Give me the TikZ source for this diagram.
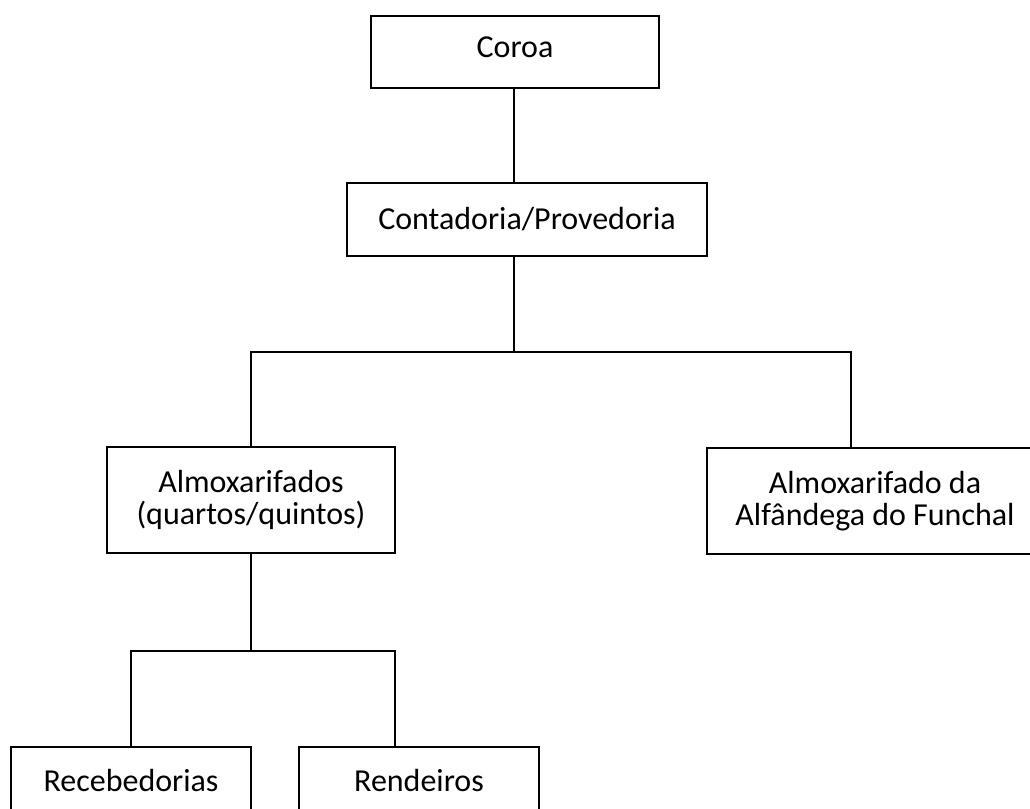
\documentclass[tikz,border=0pt]{standalone}
\usepackage{fontspec}
\setmainfont{Carlito}
\begin{document}
\begin{tikzpicture}[x=0.75pt,y=-0.75pt,
  orgbox/.style={draw=black,line width=1.4pt,inner sep=0pt,align=center,
    font=\fontsize{24}{24}\selectfont},
  conn/.style={draw=black,line width=1.4pt}]
\useasboundingbox (0,0) rectangle (1030,808);
\node[orgbox,minimum width=288*0.75pt,minimum height=72*0.75pt,text depth=7.5pt] (coroa) at (515,52) {Coroa};
\node[orgbox,minimum width=360*0.75pt,minimum height=73*0.75pt] (cont) at (527,219.5) {Contadoria/Provedoria};
\node[orgbox,minimum width=288*0.75pt,minimum height=106*0.75pt] (almox) at (251,500) {Almoxarifados\\(quartos/quintos)};
\node[orgbox,minimum width=336*0.75pt,minimum height=106*0.75pt] (alf) at (875,501) {Almoxarifado da\\Alfândega do Funchal};
\node[orgbox,minimum width=240*0.75pt,minimum height=66*0.75pt] (receb) at (131,780) {Recebedorias};
\node[orgbox,minimum width=240*0.75pt,minimum height=66*0.75pt] (rend) at (419,780) {Rendeiros};
\coordinate (j1) at (514,352);
\coordinate (k1) at (851,352);
\coordinate (j2) at (251,651);
\coordinate (k2) at (395,651);
\draw[conn] (coroa.south -| j1) -- (cont.north -| j1);
\draw[conn] (cont.south -| j1) -- (j1);
\draw[conn] (almox.north) |- (k1) -- (k1 |- alf.north);
\draw[conn] (almox.south) -- (j2);
\draw[conn] (receb.north) |- (k2) -- (k2 |- rend.north);
\end{tikzpicture}
\end{document}
